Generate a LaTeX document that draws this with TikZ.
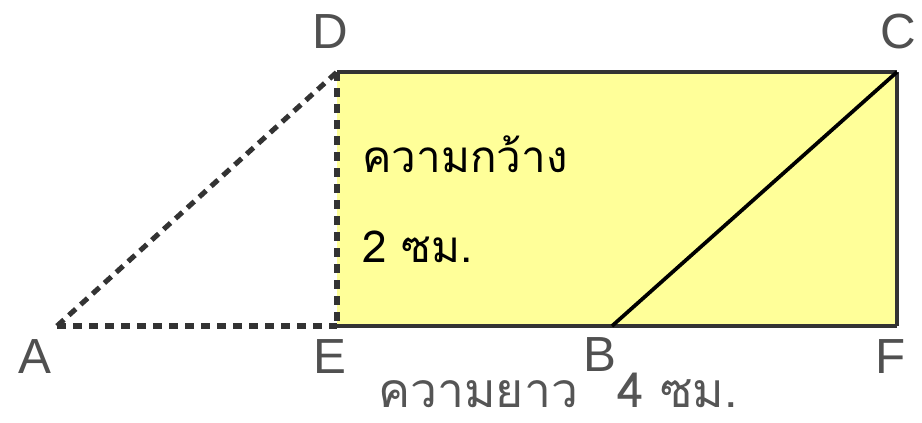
\documentclass[tikz,border=0pt]{standalone}
\usepackage{fontspec}
\setmainfont{Liberation Sans}
\newfontfamily\thaifont[Script=Thai]{Loma}
\definecolor{boxfill}{HTML}{FFFF99}
\definecolor{edgegray}{HTML}{333333}
\definecolor{labelgray}{HTML}{505050}
\definecolor{bottomgray}{HTML}{555555}
\begin{document}
\begin{tikzpicture}[x=0.75pt,y=-0.75pt,
  dashline/.style={line width=3.8pt,edgegray,dash pattern=on 7pt off 5pt},
  solidedge/.style={line width=3.3pt,edgegray},
  ptlabel/.style={font=\fontsize{37}{40}\selectfont,text=labelgray,inner sep=0pt},
  thaitext/.style={font=\thaifont\fontsize{33}{40}\selectfont,inner sep=0pt,anchor=base west},
  bottomtext/.style={font=\thaifont\fontsize{36}{44}\selectfont,inner sep=0pt,anchor=base west,text=bottomgray}]
\useasboundingbox (0,0) rectangle (922,422);
\coordinate (A) at (57,326);
\coordinate (E) at (337,326);
\coordinate (D) at (337,72);
\coordinate (C) at (897,72);
\coordinate (F) at (897,326);
\coordinate (B) at (612,326);
\fill[boxfill] (E) rectangle (C);
\draw[solidedge] (D) -- (C);
\draw[solidedge,line width=2.6pt] (C) -- (F);
\draw[solidedge] (E) -- (F);
\draw[dashline] (D) -- (E);
\draw[dashline] (A) -- (E);
\draw[dashline] (A) -- (D);
\draw[line width=2.8pt,black] (B) -- (C);
\node[ptlabel] (lD) at (330,32) {D};
\node[ptlabel] (lC) at (898,32) {C};
\node[ptlabel] (lA) at (35,357) {A};
\node[ptlabel] (lE) at (330,357) {E};
\node[ptlabel] (lB) at (600,355) {B};
\node[ptlabel] (lF) at (891,357) {F};
\node[thaitext] (w1) at (362,172) {ความกว้าง};
\node[thaitext] (w2) at (362,262) {2 ซม.};
\node[bottomtext] (w3) at (378,407) {ความยาว};
\node[bottomtext] (w4) at (617,407) {4 ซม.};
\end{tikzpicture}
\end{document}
